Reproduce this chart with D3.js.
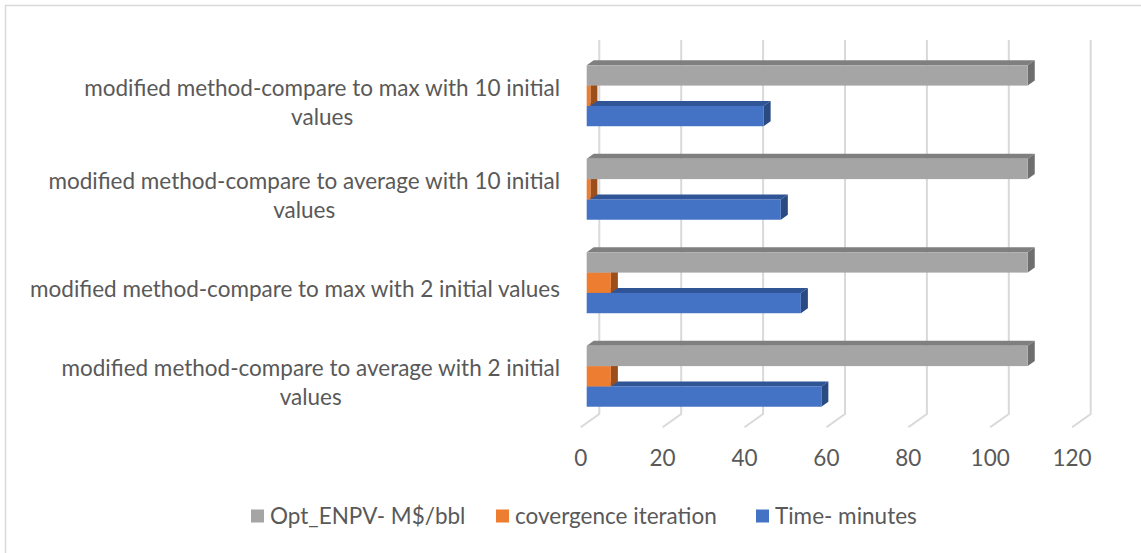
<!DOCTYPE html>
<html>
<head>
<meta charset="utf-8">
<script src="https://cdn.jsdelivr.net/npm/d3@7"></script>
<style>
  html, body { margin: 0; padding: 0; background: #ffffff; }
  svg { display: block; }
  text { font-family: Lato, "Open Sans", sans-serif; fill: #595959; }
</style>
</head>
<body>
<svg id="chart" width="1141" height="553"></svg>
<script>
// Categories, bottom to top on the vertical axis
const categories = [
  "modified method-compare to average with 2 initial values",
  "modified method-compare to max with 2 initial values",
  "modified method-compare to average with 10 initial values",
  "modified method-compare to max with 10 initial values"
];

// Series names, in plotting order (first series is the lowest bar of each group)
const seriesNames = ["Time- minutes", "covergence iteration", "Opt_ENPV- M$/bbl"];

// Series values, one per category
const timeMinutes = [57.3, 52.3, 47.4, 43.2];
const convergenceIteration = [5.9, 5.9, 0.9, 0.9];
const optENPV = [107.7, 107.7, 107.7, 107.7];

// Value axis ticks
const xTicks = [0, 20, 40, 60, 80, 100, 120];

// Legend order
const legendOrder = ["Opt_ENPV- M$/bbl", "covergence iteration", "Time- minutes"];

const seriesValues = [timeMinutes, convergenceIteration, optENPV];

const colors = {
  "Time- minutes":        { front: "#4472C4", top: "#2F5597", side: "#2A4A82" },
  "covergence iteration": { front: "#ED7D31", top: "#B05A22", side: "#9C4E1B" },
  "Opt_ENPV- M$/bbl":     { front: "#A5A5A5", top: "#7F7F7F", side: "#6E6E6E" }
};

const svg = d3.select("#chart");
const FONT = 22.5;

// Outer chart border
svg.append("rect")
  .attr("x", 5.5).attr("y", 5.5)
  .attr("width", 1150).attr("height", 560)
  .attr("fill", "none").attr("stroke", "#D9D9D9").attr("stroke-width", 1.5);

// Oblique 3-D projection: the back wall is the reference plane,
// depth d runs 0 (wall) -> 1 (front edge of floor).
const wall = { top: 40, bottom: 414 };
const depth = { dx: -18.6, dy: 13.3 };
const x = d3.scaleLinear().domain([0, 120]).range([599.3, 1090.7]);

const y = d3.scaleBand()
  .domain(categories.slice().reverse())
  .range([wall.top, wall.bottom])
  .paddingInner(0.348)
  .paddingOuter(0.174);

const ySeries = d3.scaleBand()
  .domain(seriesNames.slice().reverse())   // last series on top
  .range([0, y.bandwidth()]);

function project(v, yy, d) {
  return [x(v) + depth.dx * d, yy + depth.dy * d];
}

// Wall gridlines with their floor segments
const grid = svg.append("g").attr("class", "grid");
xTicks.forEach(t => {
  const [bx, by] = project(t, wall.bottom, 0);
  const [fx, fy] = project(t, wall.bottom, 1);
  grid.append("path")
    .attr("d", `M${x(t)},${wall.top} L${bx},${by} L${fx},${fy}`)
    .attr("fill", "none")
    .attr("stroke", "#D9D9D9")
    .attr("stroke-width", 2);
});

// Bars (front face at d=dFront, back face at d=dBack)
const dFront = 0.677, dBack = 0.30;
const bars = svg.append("g").attr("class", "bars");

categories.forEach((cat, ci) => {
  // draw lower bars first so upper bars sit over their top faces
  seriesNames.forEach((s, si) => {
    const v = seriesValues[si][ci];
    const yTop = y(cat) + ySeries(s);
    const h = ySeries.bandwidth();
    const [x0, y0] = project(0, yTop, dFront);
    const [x1] = project(v, yTop, dFront);
    const [bx0, by0] = project(0, yTop, dBack);
    const [bx1] = project(v, yTop, dBack);
    const c = colors[s];
    const g = bars.append("g");
    // top face
    g.append("path")
      .attr("d", `M${x0},${y0} L${x1},${y0} L${bx1},${by0} L${bx0},${by0} Z`)
      .attr("fill", c.top);
    // side (end) face
    g.append("path")
      .attr("d", `M${x1},${y0} L${bx1},${by0} L${bx1},${by0 + h} L${x1},${y0 + h} Z`)
      .attr("fill", c.side);
    // front face
    g.append("rect")
      .attr("x", x0).attr("y", y0)
      .attr("width", x1 - x0).attr("height", h)
      .attr("fill", c.front);
  });
});

// Value axis labels along the floor front edge
const xAxis = svg.append("g").attr("class", "x-axis");
xTicks.forEach(t => {
  const [fx] = project(t, wall.bottom, 1);
  xAxis.append("text")
    .attr("x", fx).attr("y", 466)
    .attr("text-anchor", "middle")
    .attr("font-size", FONT)
    .text(t);
});

// Category labels, wrapped and centred line by line, right edge fixed
const labelRight = 560;
const maxLabelWidth = 540;
const lineGap = 29;
const yAxis = svg.append("g").attr("class", "y-axis");

categories.forEach(cat => {
  const t = yAxis.append("text").attr("font-size", FONT).attr("text-anchor", "middle");
  const words = cat.split(" ");
  const lines = [];
  let cur = [];
  const probe = yAxis.append("text").attr("font-size", FONT);
  words.forEach(w => {
    const test = cur.concat(w).join(" ");
    probe.text(test);
    if (probe.node().getComputedTextLength() > maxLabelWidth && cur.length) {
      lines.push(cur.join(" "));
      cur = [w];
    } else {
      cur.push(w);
    }
  });
  lines.push(cur.join(" "));
  let widest = 0;
  lines.forEach(l => { probe.text(l); widest = Math.max(widest, probe.node().getComputedTextLength()); });
  probe.remove();
  const cx = labelRight - widest / 2;
  const center = y(cat) + y.bandwidth() / 2 + 23.5;
  const first = center - (lines.length - 1) * lineGap / 2;
  lines.forEach((l, i) => {
    t.append("tspan").attr("x", cx).attr("y", first + i * lineGap).text(l);
  });
});

// Legend
const legendX = [251, 496, 756];
const legend = svg.append("g").attr("class", "legend");
legendOrder.forEach((s, i) => {
  legend.append("rect")
    .attr("x", legendX[i]).attr("y", 509.5)
    .attr("width", 13).attr("height", 13)
    .attr("fill", colors[s].front);
  legend.append("text")
    .attr("x", legendX[i] + 19).attr("y", 524)
    .attr("font-size", FONT)
    .text(s);
});
</script>
</body>
</html>
